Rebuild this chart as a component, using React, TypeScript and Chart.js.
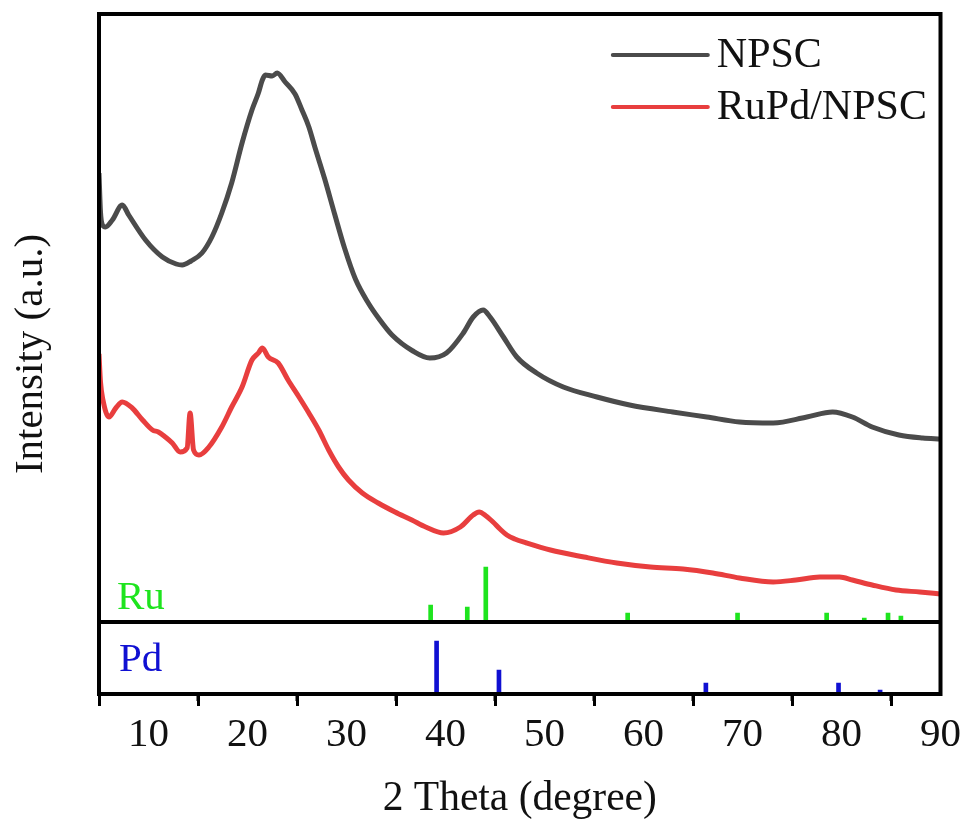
import React, { useEffect, useRef } from 'react';
import { Chart, registerables } from 'chart.js';

Chart.register(...registerables);

// ---- Data (2θ in degrees, intensity in arbitrary units) ----
const npscTheta = [5.0, 5.15, 5.35, 5.65, 6.35, 7.35, 8.0, 9.7, 11.4, 12.8, 13.4, 14.3, 15.4, 16.4, 17.4, 18.4, 19.45, 20.45, 21.1, 21.5, 21.8, 22.5, 23.0, 23.8, 24.8, 25.5, 26.2, 26.8, 27.8, 28.8, 29.8, 30.9, 32.2, 33.3, 34.6, 36.7, 38.4, 40.1, 41.8, 42.8, 43.8, 44.5, 45.85, 47.2, 49.2, 51.9, 55.3, 58.6, 62.95, 66.4, 69.7, 73.1, 76.5, 79.1, 81.1, 83.1, 85.8, 88.2, 90.0];
const npscIntensity = [449, 410, 397, 395, 402, 417, 407, 382, 365, 358, 357, 361, 369, 385, 409, 439, 479, 512, 529, 542, 547, 546, 549, 540, 528, 512, 495, 475, 443, 408, 374, 343, 319, 303, 287, 271, 264, 269, 289, 305, 312, 305, 285, 265, 249, 235, 225, 217, 210, 205, 200, 199, 205, 210, 205, 195, 187, 184, 183];

const rupdTheta = [5.0, 5.15, 5.4, 6.0, 6.7, 7.35, 8.35, 9.4, 10.4, 11.0, 11.7, 12.4, 13.2, 13.9, 14.2, 14.55, 15.1, 16.1, 17.4, 18.4, 19.45, 20.45, 21.1, 21.5, 22.1, 23.1, 24.1, 25.2, 26.2, 27.2, 28.2, 29.2, 30.2, 31.6, 33.2, 34.9, 36.6, 38.0, 39.8, 41.5, 42.8, 43.4, 44.1, 44.8, 45.5, 46.2, 47.0, 48.2, 50.6, 54.0, 57.3, 60.7, 64.0, 67.0, 69.7, 73.1, 75.4, 77.8, 79.8, 81.1, 83.1, 85.5, 87.9, 90.0];
const rupdIntensity = [268, 240, 222, 205, 214, 220, 214, 202, 192, 190, 185, 179, 170, 174, 209, 172, 167, 175, 195, 215, 235, 262, 269, 274, 265, 259, 242, 225, 209, 192, 172, 155, 142, 129, 119, 110, 102, 95, 89, 95, 107, 110, 106, 100, 93, 87, 83, 79, 72, 65, 59, 55, 53, 49, 44, 40, 42, 45, 45, 42, 37, 32, 30, 28];

const ruTheta = [38.5, 42.2, 44.07, 58.4, 69.5, 78.5, 82.3, 84.7, 86.0];
const ruHeight = [17, 15, 55, 9, 9, 9, 4, 9, 6];
const pdTheta = [39.1, 45.4, 66.3, 79.7, 83.9];
const pdHeight = [53, 24, 11, 11, 4];

const xMajorTicks = [10, 20, 30, 40, 50, 60, 70, 80, 90];
const xMinorTicks = [15, 25, 35, 45, 55, 65, 75, 85];
const seriesNames = ['NPSC', 'RuPd/NPSC'];
const phaseNames = ['Ru', 'Pd'];

const X_MIN = 5;
const X_MAX = 90;
const Y_MIN = -72;
const Y_MAX = 608;
const RU_BASE = 0;
const PD_BASE = -72;

// ---- Styles ----
const FONT = '"Liberation Serif", "Times New Roman", serif';
const C_NPSC = '#4b4b4b';
const C_RUPD = '#e83e3e';
const C_RU = '#1ee41e';
const C_PD = '#1010d2';

const framePlugin = {
  id: 'frame',
  afterDatasetsDraw(chart: any) {
    const { ctx, chartArea: a, scales } = chart;
    const x = scales.x;
    const y = scales.y;
    ctx.save();
    ctx.strokeStyle = '#000';
    ctx.lineWidth = 4;
    ctx.strokeRect(a.left, a.top, a.right - a.left, a.bottom - a.top);
    const yDiv = y.getPixelForValue(RU_BASE);
    ctx.beginPath();
    ctx.moveTo(a.left, yDiv);
    ctx.lineTo(a.right, yDiv);
    ctx.stroke();
    // minor ticks
    ctx.lineWidth = 3;
    ctx.beginPath();
    for (const v of xMinorTicks) {
      const px = x.getPixelForValue(v);
      ctx.moveTo(px, a.bottom);
      ctx.lineTo(px, a.bottom + 7);
    }
    ctx.stroke();

    // phase labels
    ctx.font = `41px ${FONT}`;
    ctx.textBaseline = 'middle';
    ctx.textAlign = 'left';
    ctx.fillStyle = C_RU;
    ctx.fillText(phaseNames[0], a.left + 18, y.getPixelForValue(RU_BASE + 24));
    ctx.fillStyle = C_PD;
    ctx.fillText(phaseNames[1], a.left + 20, y.getPixelForValue(PD_BASE + 34));

    // legend
    ctx.font = `42px ${FONT}`;
    const colors = [C_NPSC, C_RUPD];
    const legendX = x.getPixelForValue(56.9);
    const rows = [y.getPixelForValue(567), y.getPixelForValue(515)];
    seriesNames.forEach((name, i) => {
      ctx.strokeStyle = colors[i];
      ctx.lineWidth = 4;
      ctx.lineCap = 'round';
      ctx.beginPath();
      ctx.moveTo(legendX, rows[i]);
      ctx.lineTo(legendX + 95, rows[i]);
      ctx.stroke();
      ctx.fillStyle = '#111';
      ctx.fillText(name, legendX + 104, rows[i] + 1);
    });
    ctx.restore();
  },
};

export default function App() {
  const ref = useRef<HTMLCanvasElement | null>(null);

  useEffect(() => {
    if (!ref.current) return;
    const chart = new Chart(ref.current, {
      type: 'line',
      data: {
        datasets: [
          {
            type: 'line',
            label: seriesNames[0],
            data: npscTheta.map((t, i) => ({ x: t, y: npscIntensity[i] })),
            borderColor: C_NPSC,
            borderWidth: 5,
            pointRadius: 0,
            cubicInterpolationMode: 'monotone',
          },
          {
            type: 'line',
            label: seriesNames[1],
            data: rupdTheta.map((t, i) => ({ x: t, y: rupdIntensity[i] })),
            borderColor: C_RUPD,
            borderWidth: 5,
            pointRadius: 0,
            cubicInterpolationMode: 'monotone',
          },
          {
            type: 'bar',
            label: phaseNames[0],
            data: ruTheta.map((t, i) => ({ x: t, y: [RU_BASE, RU_BASE + ruHeight[i]] })) as any,
            backgroundColor: C_RU,
            barThickness: 4,
            grouped: false,
          } as any,
          {
            type: 'bar',
            label: phaseNames[1],
            data: pdTheta.map((t, i) => ({ x: t, y: [PD_BASE, PD_BASE + pdHeight[i]] })) as any,
            backgroundColor: C_PD,
            barThickness: 4,
            grouped: false,
          } as any,
        ],
      },
      options: {
        animation: false,
        responsive: false,
        events: [],
        layout: { padding: { top: 14, right: 24.5, bottom: 0, left: 0 } },
        plugins: { legend: { display: false }, tooltip: { enabled: false } },
        scales: {
          x: {
            type: 'linear',
            min: X_MIN,
            max: X_MAX,
            offset: false,
            afterBuildTicks: (scale: any) => {
              scale.ticks = xMajorTicks.map((v) => ({ value: v }));
            },
            afterFit: (scale: any) => {
              scale.height = 133;
            },
            ticks: {
              color: '#111',
              font: { family: FONT, size: 41 },
              padding: 5,
              maxRotation: 0,
              autoSkip: false,
            },
            grid: {
              display: true,
              drawOnChartArea: false,
              drawTicks: true,
              tickLength: 12,
              tickWidth: 3,
              tickColor: '#000',
            },
            border: { display: false },
            title: {
              display: true,
              text: '2 Theta (degree)',
              color: '#111',
              font: { family: FONT, size: 41.5 },
              padding: { top: 0, bottom: 3 },
            },
          },
          y: {
            type: 'linear',
            min: Y_MIN,
            max: Y_MAX,
            afterFit: (scale: any) => {
              scale.width = 99;
            },
            ticks: { display: false },
            grid: { display: false, drawTicks: false },
            border: { display: false },
            title: {
              display: true,
              text: 'Intensity (a.u.)',
              color: '#111',
              font: { family: FONT, size: 41 },
              padding: { top: 7, bottom: 0 },
            },
          },
        },
      },
      plugins: [framePlugin],
    });
    return () => chart.destroy();
  }, []);

  return (
    <div style={{ position: 'fixed', left: 0, top: 0, width: 966, height: 827, background: '#fff' }}>
      <canvas ref={ref} width={966} height={827} style={{ display: 'block' }} />
    </div>
  );
}
